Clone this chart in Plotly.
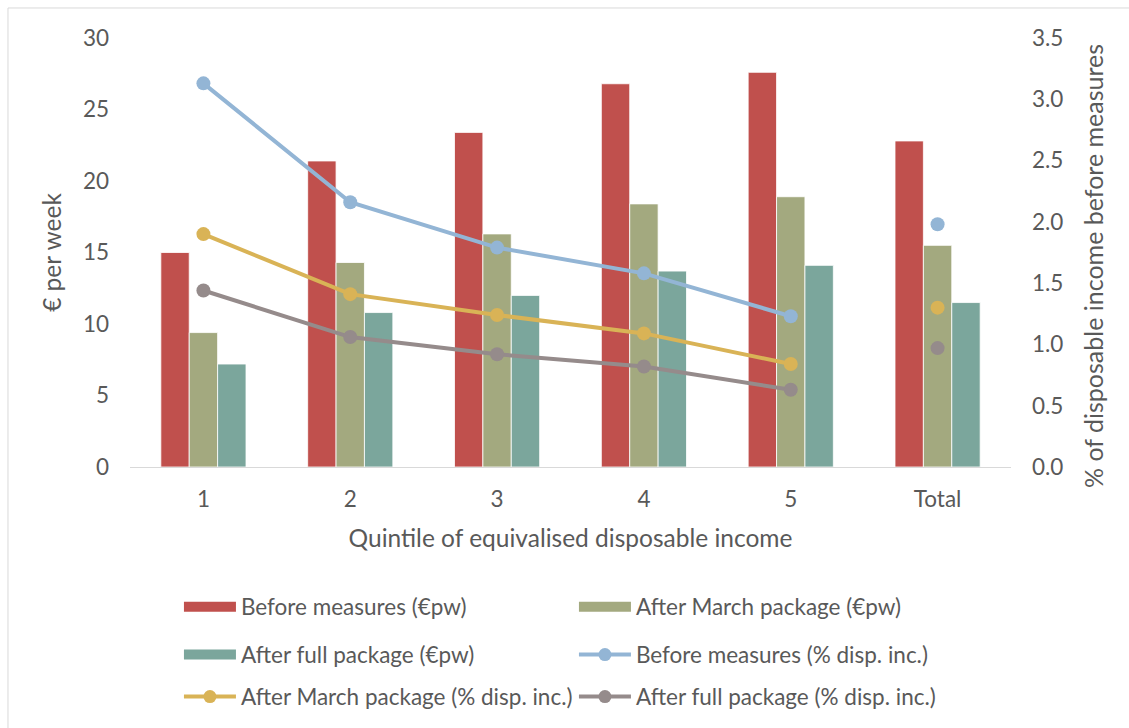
import plotly.graph_objects as go
from plotly.subplots import make_subplots

# Income quintiles plus the population total
categories = ["1", "2", "3", "4", "5", "Total"]

# Weekly cost in euro (left axis)
before_eur = [15.0, 21.4, 23.4, 26.8, 27.6, 22.8]
march_eur = [9.4, 14.3, 16.3, 18.4, 18.9, 15.5]
full_eur = [7.2, 10.8, 12.0, 13.7, 14.1, 11.5]

# Share of disposable income before measures, % (right axis)
before_pct = [3.13, 2.16, 1.79, 1.58, 1.23, 1.98]
march_pct = [1.90, 1.41, 1.24, 1.09, 0.84, 1.30]
full_pct = [1.44, 1.06, 0.92, 0.82, 0.63, 0.97]

RED = "#C0504D"
OLIVE = "#A3A97F"
TEAL = "#7BA69C"
BLUE = "#93B5D5"
GOLD = "#D9B356"
GREY = "#958B8B"
TXT = "#595959"
FONT = "Lato"
TICK = 22.5
TITLE = 24.5
LEG = 22.5

fig = make_subplots(specs=[[{"secondary_y": True}]])

bar_series = [
    ("Before measures (€pw)", before_eur, RED, "legend"),
    ("After March package (€pw)", march_eur, OLIVE, "legend"),
    ("After full package (€pw)", full_eur, TEAL, "legend2"),
]
for name, vals, col, _ in bar_series:
    fig.add_trace(
        go.Bar(x=categories, y=vals, name=name, marker_color=col,
               marker_line=dict(color="white", width=0.8), showlegend=False),
        secondary_y=False,
    )

line_series = [
    ("Before measures (% disp. inc.)", before_pct, BLUE, "legend2"),
    ("After March package (% disp. inc.)", march_pct, GOLD, "legend3"),
    ("After full package (% disp. inc.)", full_pct, GREY, "legend3"),
]
for name, vals, col, _ in line_series:
    # quintiles joined by a line, the total shown as a lone point
    fig.add_trace(
        go.Scatter(x=categories[:5], y=vals[:5], name=name, mode="lines+markers",
                   line=dict(color=col, width=4), marker=dict(color=col, size=14),
                   showlegend=False),
        secondary_y=True,
    )
    fig.add_trace(
        go.Scatter(x=categories[5:], y=vals[5:], name=name, mode="markers",
                   marker=dict(color=col, size=14), showlegend=False),
        secondary_y=True,
    )

# legend entries, laid out two per row
for name, _, col, lg in bar_series:
    fig.add_trace(go.Scatter(x=[None], y=[None], name=name, mode="lines",
                             line=dict(color=col, width=16), legend=lg,
                             hoverinfo="skip"))
for name, _, col, lg in line_series:
    fig.add_trace(go.Scatter(x=[None], y=[None], name=name, mode="lines+markers",
                             line=dict(color=col, width=4),
                             marker=dict(color=col, size=13), legend=lg,
                             hoverinfo="skip"))

legend_common = dict(
    orientation="h", xref="container", yref="container",
    xanchor="left", yanchor="middle", x=0.1585,
    font=dict(family=FONT, size=LEG, color=TXT), itemwidth=52,
    entrywidth=328, entrywidthmode="pixels", bgcolor="rgba(0,0,0,0)",
    itemclick=False,
)

fig.update_layout(
    width=1129, height=728,
    margin=dict(l=130, r=118, t=38, b=261),
    paper_bgcolor="white", plot_bgcolor="white",
    barmode="group", bargap=0.42, bargroupgap=0,
    font=dict(family=FONT, size=TICK, color=TXT),
    legend=dict(legend_common, y=0.1662),
    legend2=dict(legend_common, y=0.1003),
    legend3=dict(legend_common, y=0.0426),
    shapes=[dict(type="rect", xref="paper", yref="paper",
                 x0=-0.1385, x1=1.146, y0=-0.64, y1=1.07,
                 line=dict(color="#D9D9D9", width=1), fillcolor="rgba(0,0,0,0)",
                 layer="below")],
    annotations=[dict(text="% of disposable income before measures",
                      xref="paper", yref="paper", x=1.0931, y=0.4685,
                      xanchor="center", yanchor="middle", textangle=-90,
                      showarrow=False,
                      font=dict(family=FONT, size=25, color=TXT))],
)

fig.update_xaxes(
    domain=[0, 1], type="category", showline=True, linecolor="#D9D9D9",
    linewidth=1, showgrid=False, ticks="", ticklabelstandoff=12,
    automargin=False, tickfont=dict(family=FONT, size=TICK, color=TXT),
    title=dict(text="Quintile of equivalised disposable income",
               font=dict(family=FONT, size=TITLE, color=TXT), standoff=18),
)
fig.update_yaxes(
    range=[0, 30], dtick=5, showgrid=False, zeroline=False, showline=False,
    ticks="", ticklabelstandoff=20, automargin=False,
    tickfont=dict(family=FONT, size=TICK, color=TXT),
    title=dict(text="€ per week", font=dict(family=FONT, size=TITLE, color=TXT),
               standoff=14),
    secondary_y=False,
)
fig.update_yaxes(
    range=[0, 3.5], dtick=0.5, tickformat=".1f", showgrid=False, zeroline=False,
    showline=False, ticks="", ticklabelstandoff=20, automargin=False,
    tickfont=dict(family=FONT, size=TICK, color=TXT),
    secondary_y=True,
)

fig.write_html("out.html")
